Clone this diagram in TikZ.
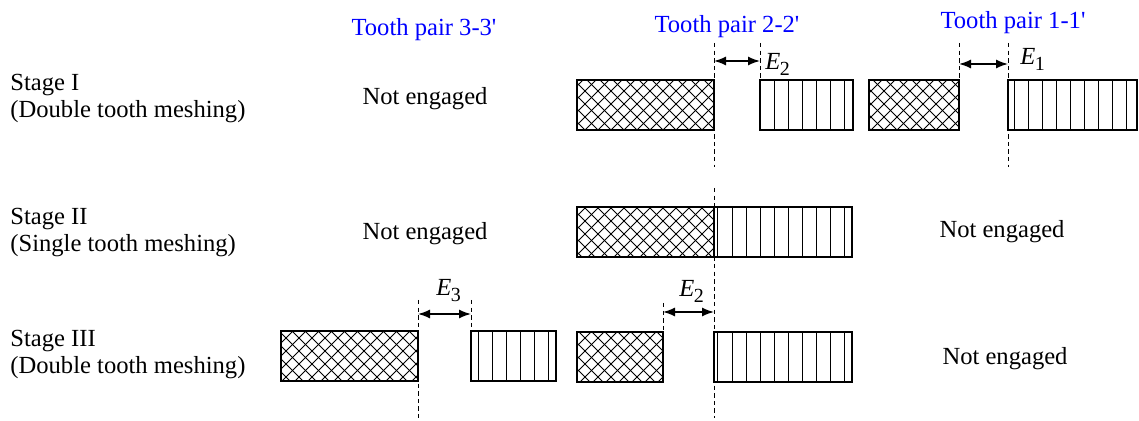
\documentclass[tikz,border=0pt]{standalone}
\usepackage{fontspec}
\setmainfont{Liberation Serif}[Ligatures=TeXOff]
\usetikzlibrary{arrows.meta}

% outlined tooth blocks: cross-hatched (driving) and striped (driven)
\newcommand{\crossblock}[5]{% name, x1, y1, x2, y2
  \begin{scope}
    \clip (#2,#3) rectangle (#4,#5);
    \pgfmathtruncatemacro\ka{floor((#2-#5)/13)-1}
    \pgfmathtruncatemacro\kb{ceil((#4-#3)/13)+1}
    \foreach \k in {\ka,...,\kb}
      \draw[hatch] ({\k*13+#3},#3) -- ({\k*13+#5},#5);
    \pgfmathtruncatemacro\kc{floor((#2+#3)/13)-1}
    \pgfmathtruncatemacro\kd{ceil((#4+#5)/13)+1}
    \foreach \k in {\kc,...,\kd}
      \draw[hatch] ({\k*13-#3},#3) -- ({\k*13-#5},#5);
  \end{scope}
  \draw[block] (#2,#3) rectangle (#4,#5);
  \coordinate (#1) at ({(#2+#4)/2},{(#3+#5)/2});}
\newcommand{\stripeblock}[5]{% name, x1, y1, x2, y2
  \begin{scope}
    \clip (#2,#3) rectangle (#4,#5);
    \foreach \k in {-20,...,30}
      \draw[hatch] ({732+14.1*\k},#3) -- ({732+14.1*\k},#5);
  \end{scope}
  \draw[block] (#2,#3) rectangle (#4,#5);
  \coordinate (#1) at ({(#2+#4)/2},{(#3+#5)/2});}
\newcommand{\Esub}[2]{\textit{E}\kern-0.3pt\raisebox{-0.45ex}{\fontsize{10}{10}\selectfont #2}}

\begin{document}
\begin{tikzpicture}[x=0.5pt,y=-0.5pt,
  font=\fontsize{12.3}{14}\selectfont,
  hatch/.style={line width=0.5pt},
  block/.style={line width=1.45pt},
  guide/.style={line width=0.5pt,dash pattern=on 2.2pt off 1.6pt},
  gap/.style={line width=0.75pt,{Latex[length=6pt,width=4.5pt]}-{Latex[length=6pt,width=4.5pt]}},
  pair/.style={text=blue,anchor=base,inner sep=0pt},
  lbl/.style={anchor=base west,inner sep=0pt},
  idle/.style={anchor=base,inner sep=0pt}]
\useasboundingbox (0,0) rectangle (1139,421);

% column headings
\node[pair] (h3) at (424,36) {Tooth pair 3-3'};
\node[pair] (h2) at (727,33) {Tooth pair 2-2'};
\node[pair] (h1) at (1013,29) {Tooth pair 1-1'};

% stage labels
\node[lbl] (s1a) at (10,91) {Stage I};
\node[lbl] (s1b) at (10,118) {(Double tooth meshing)};
\node[lbl] (s2a) at (10,225) {Stage II};
\node[lbl] (s2b) at (10,252) {(Single tooth meshing)};
\node[lbl] (s3a) at (10,347) {Stage III};
\node[lbl] (s3b) at (10,374) {(Double tooth meshing)};

% pairs out of mesh
\node[idle] (n13) at (425,105) {Not engaged};
\node[idle] (n23) at (425,240) {Not engaged};
\node[idle] (n21) at (1002,238) {Not engaged};
\node[idle] (n31) at (1005,365) {Not engaged};

% Stage I
\crossblock{b12a}{577}{80}{714}{130}
\stripeblock{b12b}{760}{80}{853}{130}
\crossblock{b11a}{869}{80}{959}{130}
\stripeblock{b11b}{1008}{80}{1137}{130}

% Stage II
\crossblock{b22a}{577}{207}{714}{257}
\stripeblock{b22b}{714}{207}{852}{257}

% Stage III
\crossblock{b33a}{281}{331}{418}{381}
\stripeblock{b33b}{471}{331}{556}{381}
\crossblock{b32a}{577}{332}{663}{382}
\stripeblock{b32b}{714}{332}{852}{382}

% guide lines
\coordinate (g1) at (714,43);  \coordinate (g1e) at (714,167);
\coordinate (g2) at (760,43);  \coordinate (g2e) at (760,80);
\coordinate (g3) at (959,43);  \coordinate (g3e) at (959,80);
\coordinate (g4) at (1008,43); \coordinate (g4e) at (1008,167);
\coordinate (g5) at (714,188); \coordinate (g5e) at (714,418);
\coordinate (g6) at (418,300); \coordinate (g6e) at (418,418);
\coordinate (g7) at (471,300); \coordinate (g7e) at (471,331);
\coordinate (g8) at (663,303); \coordinate (g8e) at (663,332);
\foreach \g in {1,...,8} \draw[guide] (g\g) -- (g\g e);

% backlash gaps
\coordinate (a1l) at (714,61);  \coordinate (a1r) at (760,61);
\coordinate (a2l) at (959,64);  \coordinate (a2r) at (1008,64);
\coordinate (a3l) at (418,314); \coordinate (a3r) at (471,314);
\coordinate (a4l) at (663,312); \coordinate (a4r) at (714,312);
\draw[gap] (a1l) -- (a1r);
\draw[gap] (a2l) -- (a2r);
\draw[gap] (a3l) -- (a3r);
\draw[gap] (a4l) -- (a4r);

\node[anchor=base west,inner sep=0pt] (e2a) at (765,70) {\Esub{E}{2}};
\node[anchor=base west,inner sep=0pt] (e1) at (1020,65) {\Esub{E}{1}};
\node[anchor=base west,inner sep=0pt] (e3) at (436,296) {\Esub{E}{3}};
\node[anchor=base west,inner sep=0pt] (e2b) at (679,297) {\Esub{E}{2}};
\end{tikzpicture}
\end{document}
